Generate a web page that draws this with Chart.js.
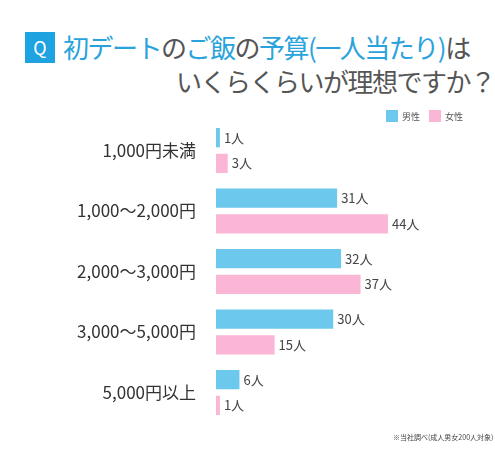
<!DOCTYPE html>
<html><head><meta charset="utf-8">
<script src="https://cdn.jsdelivr.net/npm/chart.js@4"></script>
<style>
body{margin:0;width:495px;height:450px;background:#fff;font-family:"Noto Sans CJK JP",sans-serif;position:relative;overflow:hidden}
.t{position:absolute;color:#555;font-size:26px;letter-spacing:-1.5px;white-space:nowrap;line-height:34px}
.b{color:#2aa3dc}
.q{display:inline-block;background:#1fa2e0;color:#fff;width:30px;height:31px;font-size:18px;text-align:center;line-height:31px;vertical-align:3px;margin-right:8px;letter-spacing:0}
#leg{position:absolute;left:386px;top:110px;font-size:9px;color:#555;z-index:2}
#leg span{display:inline-block;width:12px;height:12px;vertical-align:-2px;margin-right:4px}
#note{position:absolute;left:393px;top:432px;font-size:7px;color:#444;white-space:nowrap;z-index:2}
#c{position:absolute;left:0;top:98px}
</style></head><body>
<div class="t" style="left:25px;top:30px"><span class="q">Q</span><span class="b">初デート</span>の<span class="b">ご飯</span>の<span class="b">予算(一人当たり)</span>は</div>
<div class="t" style="left:176px;top:64px">いくらくらいが理想ですか？</div>
<div id="c" style="width:495px;height:347px"><canvas id="chart"></canvas></div>
<div id="leg"><span style="background:#6cc8ec"></span>男性　<span style="background:#fbb6d6"></span>女性</div>
<div id="note">※当社調べ(成人男女200人対象)</div>
<script>
const categories = ["1,000円未満", "1,000〜2,000円", "2,000〜3,000円", "3,000〜5,000円", "5,000円以上"];
const male = [1, 31, 32, 30, 6];
const female = [3, 44, 37, 15, 1];

const labelPlugin = {
    id: "valueLabels",
    afterDatasetsDraw(chart) {
        const c = chart.ctx;
        c.save();
        c.font = "13px 'Noto Sans CJK JP'";
        c.fillStyle = "#444";
        c.textBaseline = "middle";
        chart.data.datasets.forEach((ds, i) => {
            chart.getDatasetMeta(i).data.forEach((bar, j) => {
                c.fillText(ds.data[j] + "人", bar.x + 4, bar.y);
            });
        });
        c.restore();
    },
};

new Chart(document.getElementById("chart"), {
    type: "bar",
    data: {
        labels: categories,
        datasets: [
            { label: "男性", data: male, backgroundColor: "#6cc8ec", barPercentage: 0.75, categoryPercentage: 0.85 },
            { label: "女性", data: female, backgroundColor: "#fbb6d6", barPercentage: 0.75, categoryPercentage: 0.85 },
        ],
    },
    options: {
        indexAxis: "y",
        responsive: true,
        maintainAspectRatio: false,
        animation: false,
        layout: { padding: { right: 25 } },
        plugins: { legend: { display: false }, tooltip: { enabled: false } },
        scales: {
            x: { display: false, min: 0, max: 65 },
            y: {
                grid: { display: false },
                border: { display: false },
                ticks: { color: "#333", font: { size: 17, family: "Noto Sans CJK JP" }, padding: 12 },
                afterFit(scale) { scale.width = 216; },
            },
        },
    },
    plugins: [labelPlugin],
});
</script>
</body></html>
